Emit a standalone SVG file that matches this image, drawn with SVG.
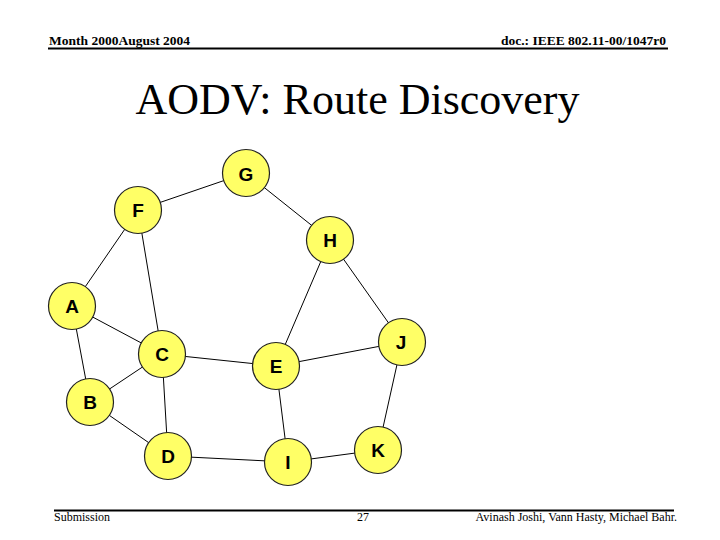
<svg xmlns="http://www.w3.org/2000/svg" width="720" height="540" viewBox="0 0 720 540">
<style>
.hdr{font-family:"Liberation Serif","Times New Roman",serif;font-weight:bold;font-size:13.5px;fill:#000}
.ftr{font-family:"Liberation Serif","Times New Roman",serif;font-size:12px;fill:#000}
.title{font-family:"Liberation Serif","Times New Roman",serif;font-size:44px;fill:#000}
.node circle{fill:#ffff66;stroke:#222;stroke-width:1.2}
.node text{font-family:"Liberation Sans",Arial,sans-serif;font-weight:bold;font-size:19px;fill:#000;text-anchor:middle;dominant-baseline:central}
#edges line{stroke:#000;stroke-width:1}
</style>
<rect width="720" height="540" fill="#fff"/>
<text class="hdr" x="49" y="45">Month 2000August 2004</text>
<text class="hdr" x="666" y="45" text-anchor="end">doc.: IEEE 802.11-00/1047r0</text>
<line x1="48" y1="48.5" x2="668" y2="48.5" stroke="#000" stroke-width="2"/>
<text class="title" x="357.5" y="114" text-anchor="middle">AODV: Route Discovery</text>
<line x1="54" y1="510.5" x2="674" y2="510.5" stroke="#000" stroke-width="2"/>
<text class="ftr" x="54" y="521">Submission</text>
<text class="ftr" x="363" y="521" text-anchor="middle">27</text>
<text class="ftr" x="677" y="521" text-anchor="end">Avinash Joshi, Vann Hasty, Michael Bahr.</text>
<g id="edges">
<line x1="246" y1="173" x2="138" y2="210"/>
<line x1="246" y1="173" x2="330" y2="240"/>
<line x1="138" y1="210" x2="72" y2="306"/>
<line x1="138" y1="210" x2="162" y2="354"/>
<line x1="330" y1="240" x2="276" y2="366"/>
<line x1="330" y1="240" x2="402" y2="342"/>
<line x1="72" y1="306" x2="162" y2="354"/>
<line x1="72" y1="306" x2="90" y2="402"/>
<line x1="90" y1="402" x2="162" y2="354"/>
<line x1="90" y1="402" x2="168" y2="456"/>
<line x1="162" y1="354" x2="168" y2="456"/>
<line x1="162" y1="354" x2="276" y2="366"/>
<line x1="276" y1="366" x2="402" y2="342"/>
<line x1="276" y1="366" x2="288" y2="462"/>
<line x1="402" y1="342" x2="378" y2="450"/>
<line x1="168" y1="456" x2="288" y2="462"/>
<line x1="288" y1="462" x2="378" y2="450"/>
</g>
<g id="G" class="node"><circle cx="246" cy="173" r="23.5"/><text x="246" y="174">G</text></g>
<g id="F" class="node"><circle cx="138" cy="210" r="23.5"/><text x="138" y="210">F</text></g>
<g id="H" class="node"><circle cx="330" cy="240" r="23.5"/><text x="330" y="240">H</text></g>
<g id="A" class="node"><circle cx="72" cy="306" r="23.5"/><text x="72" y="306">A</text></g>
<g id="C" class="node"><circle cx="162" cy="354" r="23.5"/><text x="162" y="354">C</text></g>
<g id="E" class="node"><circle cx="276" cy="366" r="23.5"/><text x="276" y="366">E</text></g>
<g id="J" class="node"><circle cx="402" cy="342" r="23.5"/><text x="401" y="342">J</text></g>
<g id="B" class="node"><circle cx="90" cy="402" r="23.5"/><text x="90" y="402">B</text></g>
<g id="D" class="node"><circle cx="168" cy="456" r="23.5"/><text x="168" y="456">D</text></g>
<g id="I" class="node"><circle cx="288" cy="462" r="23.5"/><text x="288" y="462">I</text></g>
<g id="K" class="node"><circle cx="378" cy="450" r="23.5"/><text x="378" y="450">K</text></g>
</svg>
